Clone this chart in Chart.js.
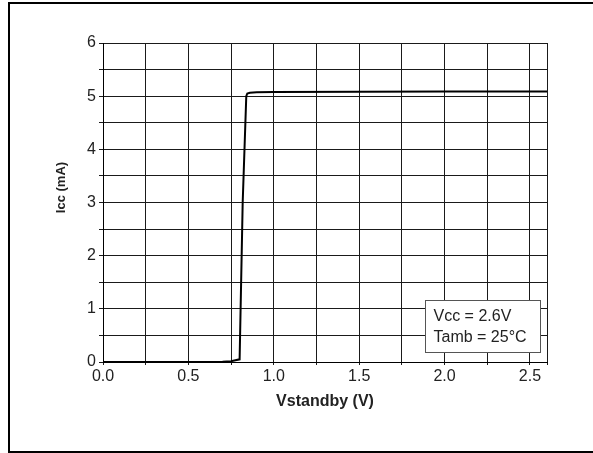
<!DOCTYPE html>
<html>
<head>
<meta charset="utf-8">
<script src="https://cdn.jsdelivr.net/npm/chart.js@4/dist/chart.umd.min.js"></script>
<style>
  html, body { margin: 0; padding: 0; background: #fff; }
  #wrap { width: 593px; height: 453px; }
</style>
</head>
<body>
<div id="wrap"><canvas id="chart" width="593" height="453"></canvas></div>
<script>
// Icc vs Vstandby
const vstandby = [0, 0.25, 0.5, 0.6, 0.7, 0.75, 0.8, 0.818, 0.839, 0.845, 0.86, 0.9, 1.0, 1.5, 2.0, 2.6];
const icc = [0, 0, 0, 0.002, 0.006, 0.015, 0.05, 3.0, 5.0, 5.05, 5.065, 5.075, 5.08, 5.085, 5.09, 5.09];

const xGrid = [0, 0.25, 0.5, 0.75, 1.0, 1.25, 1.5, 1.75, 2.0, 2.25, 2.5, 2.6];
const xLabels = ['0.0', '', '0.5', '', '1.0', '', '1.5', '', '2.0', '', '2.5', ''];
const yGrid = [0, 0.5, 1, 1.5, 2, 2.5, 3, 3.5, 4, 4.5, 5, 5.5, 6];
const yLabels = ['0', '', '1', '', '2', '', '3', '', '4', '', '5', '', '6'];
const noteLines = ['Vcc = 2.6V', 'Tamb = 25\u00B0C'];

const FONT = 'Arial, "Liberation Sans", Helvetica, sans-serif';
const gridColor = '#1a1a1a';

const frame = {
  id: 'frame',
  beforeDraw(chart) {
    const ctx = chart.ctx;
    ctx.save();
    ctx.fillStyle = '#fff';
    ctx.fillRect(0, 0, chart.width, chart.height);
    ctx.strokeStyle = '#000';
    ctx.lineWidth = 2;
    ctx.strokeRect(9, 3, 700, 449);
    ctx.restore();
  },
  afterDraw(chart) {
    const ctx = chart.ctx;
    const a = chart.chartArea;
    ctx.save();
    // y axis title
    ctx.translate(61, (a.top + a.bottom) / 2 - 15);
    ctx.rotate(-Math.PI / 2);
    ctx.font = 'bold 13px ' + FONT;
    ctx.fillStyle = '#222';
    ctx.textAlign = 'center';
    ctx.textBaseline = 'middle';
    ctx.fillText('Icc (mA)', 0, 0);
    ctx.restore();

    // condition box
    const w = 115, h = 52;
    const bx = Math.round(a.right - 7 - w) + 0.5;
    const by = Math.round(a.bottom - 10 - h) + 0.5;
    ctx.save();
    ctx.fillStyle = '#fff';
    ctx.fillRect(bx, by, w, h);
    ctx.strokeStyle = '#555';
    ctx.lineWidth = 1;
    ctx.strokeRect(bx, by, w, h);
    ctx.font = '16px ' + FONT;
    ctx.fillStyle = '#222';
    ctx.textBaseline = 'middle';
    noteLines.forEach((t, i) => ctx.fillText(t, bx + 8, by + 16 + i * 21));
    ctx.restore();
  }
};

new Chart(document.getElementById('chart'), {
  type: 'line',
  data: {
    datasets: [{
      data: vstandby.map((v, i) => ({ x: v, y: icc[i] })),
      borderColor: '#000',
      borderWidth: 2,
      pointRadius: 0,
      tension: 0,
      fill: false
    }]
  },
  options: {
    responsive: false,
    animation: false,
    layout: { padding: { left: 0, right: 46, top: 43, bottom: 0 } },
    plugins: { legend: { display: false }, tooltip: { enabled: false } },
    scales: {
      x: {
        type: 'linear',
        min: 0,
        max: 2.6,
        afterBuildTicks: s => { s.ticks = xGrid.map(v => ({ value: v })); },
        afterFit: s => { s.height = 91; },
        ticks: {
          autoSkip: false,
          maxRotation: 0,
          padding: 2,
          color: '#222',
          font: { family: FONT, size: 16 },
          callback: (v, i) => xLabels[i]
        },
        grid: { color: gridColor, lineWidth: 1, tickLength: 3 },
        border: { color: '#000', width: 1 },
        title: {
          display: true,
          text: 'Vstandby (V)',
          color: '#222',
          font: { family: FONT, size: 16, weight: 'bold' },
          padding: { top: 0, bottom: 42 }
        }
      },
      y: {
        min: 0,
        max: 6,
        afterBuildTicks: s => { s.ticks = yGrid.map(v => ({ value: v })); },
        afterFit: s => { s.width = 103; },
        ticks: {
          autoSkip: false,
          padding: 3,
          color: '#222',
          font: { family: FONT, size: 16 },
          callback: (v, i) => yLabels[i]
        },
        grid: { color: gridColor, lineWidth: 1, tickLength: 4 },
        border: { color: '#000', width: 1 }
      }
    }
  },
  plugins: [frame]
});
</script>
</body>
</html>
